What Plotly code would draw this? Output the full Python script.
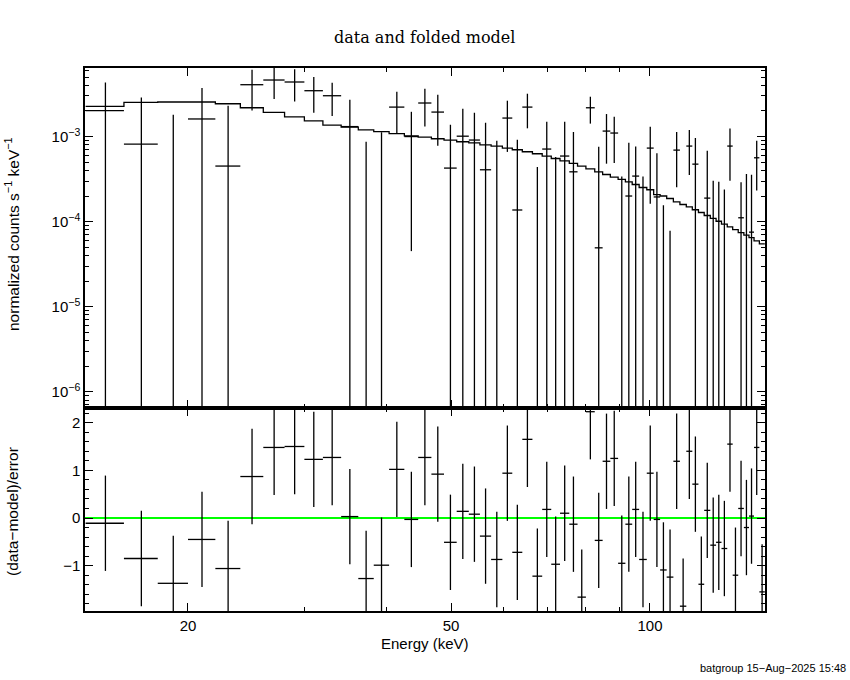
import plotly.graph_objects as go
import math

# ---------------- data ----------------
edges = [14.0, 16.0, 18.0, 20.0, 22.0, 24.0, 26.0, 28.0, 30.0, 32.0, 34.1, 36.2, 38.2, 40.3,
         42.5, 44.6, 46.7, 48.8, 51.0, 53.2, 55.3, 57.5, 59.8, 61.9, 64.1, 66.4, 68.7, 70.9,
         73.1, 75.5, 77.7, 80.0, 82.5, 84.8, 87.1, 89.5, 91.8, 94.0, 96.3, 98.9, 101.3, 103.6,
         106.0, 108.5, 111.0, 113.5, 115.9, 118.4, 120.8, 123.4, 125.9, 128.3, 130.9, 133.4,
         136.0, 138.7, 141.2, 143.7, 146.4, 149.2]

rate = [2.02e-3, 8.16e-4, -2.3e-4, 1.61e-3, 4.50e-4, 4.07e-3, 4.62e-3, 4.38e-3, 3.46e-3, 3.02e-3,
        1.31e-3, -3.6e-4, -1.0e-5, 2.22e-3, 1.00e-3, 2.48e-3, 1.94e-3, 4.26e-4, 1.01e-3, 9.1e-4,
        4.07e-4, -2.7e-5, 1.65e-3, 1.37e-4, 2.22e-3, -3.9e-4, 7.13e-4, -2.24e-4, 5.90e-4, 3.85e-4,
        -7.1e-4, 2.18e-3, 4.92e-5, 1.16e-3, 1.10e-3, -2.6e-4, 2.0e-4, 3.43e-4, -3.6e-4, 7.32e-4,
        1.95e-4, -3.34e-4, -3.76e-4, 6.93e-4, -6.7e-4, 7.73e-4, 4.74e-4, -4.98e-4, 1.89e-4, -1.47e-4,
        -1.01e-4, -1.65e-4, 7.73e-4, -4.0e-4, 1.11e-4, -4.0e-6, 7.52e-5, 5.63e-4, -4.1e-4]

rate_err = [2.3e-3, 2.07e-3, 2.03e-3, 2.11e-3, 1.85e-3, 2.05e-3, 1.86e-3, 1.79e-3, 1.55e-3, 1.27e-3,
            1.4e-3, 1.23e-3, 1.13e-3, 1.15e-3, 0.955e-3, 1.17e-3, 1.16e-3, 0.95e-3, 1.11e-3, 1.0e-3,
            1.05e-3, 0.92e-3, 0.99e-3, 0.78e-3, 0.97e-3, 0.83e-3, 0.78e-3, 0.80e-3, 0.90e-3, 0.75e-3,
            0.70e-3, 0.76e-3, 0.71e-3, 0.68e-3, 0.61e-3, 0.60e-3, 0.645e-3, 0.42e-3, 0.70e-3, 0.57e-3,
            0.44e-3, 0.49e-3, 0.454e-3, 0.44e-3, 0.45e-3, 0.42e-3, 0.49e-3, 0.45e-3, 0.49e-3, 0.449e-3,
            0.396e-3, 0.404e-3, 0.47e-3, 0.40e-3, 0.18e-3, 0.366e-3, 0.28e-3, 0.33e-3, 0.30e-3]

model = [2.26e-3, 2.52e-3, 2.55e-3, 2.55e-3, 2.43e-3, 2.18e-3, 1.92e-3, 1.70e-3, 1.53e-3, 1.36e-3,
         1.29e-3, 1.20e-3, 1.14e-3, 1.08e-3, 1.02e-3, 9.86e-4, 9.42e-4, 9.10e-4, 8.69e-4, 8.45e-4,
         8.00e-4, 7.73e-4, 7.32e-4, 7.00e-4, 6.63e-4, 6.28e-4, 5.90e-4, 5.52e-4, 5.19e-4, 4.83e-4,
         4.50e-4, 4.18e-4, 3.85e-4, 3.58e-4, 3.34e-4, 3.13e-4, 2.94e-4, 2.73e-4, 2.52e-4, 2.37e-4,
         2.08e-4, 2.00e-4, 1.87e-4, 1.71e-4, 1.59e-4, 1.49e-4, 1.38e-4, 1.28e-4, 1.18e-4, 1.09e-4,
         1.01e-4, 9.35e-5, 8.69e-5, 8.07e-5, 7.44e-5, 6.93e-5, 6.50e-5, 5.94e-5, 5.48e-5]

resid = [-0.11, -0.85, -1.37, -0.45, -1.06, 0.87, 1.48, 1.50, 1.23, 1.27,
         0.03, -1.27, -0.99, 1.02, -0.03, 1.27, 0.92, -0.51, 0.14, 0.08,
         -0.38, -0.87, 0.94, -0.72, 1.65, -1.22, 0.18, -0.97, 0.10, -0.13,
         -1.66, 2.23, -0.47, 1.19, 1.25, -0.95, -0.13, 0.18, -0.87, 0.94,
         -0.03, -1.09, -1.24, 1.19, -1.85, 1.40, 0.71, -1.39, 0.16, -0.57,
         -0.51, -0.64, 1.55, -1.20, 0.20, -0.20, 0.04, 1.48, -1.55]
resid_err = [1.0] * len(resid)

x_tickvals = [20, 50, 100]
x_ticktext = ["20", "50", "100"]
x_minor = [30, 40, 60, 70, 80, 90]
y_tickvals = [1e-6, 1e-5, 1e-4, 1e-3]
y_ticktext = ["10<sup>\u22126</sup>", "10<sup>\u22125</sup>", "10<sup>\u22124</sup>", "10<sup>\u22123</sup>"]
r_tickvals = [-1, 0, 1, 2]
r_ticktext = ["\u22121", "0", "1", "2"]

# ---------------- build marks ----------------
n = len(rate)
FLOOR = 1e-9
vx, vy, hx, hy = [], [], [], []
rvx, rvy, rhx, rhy = [], [], [], []
for i in range(n):
    lo, hi = edges[i], edges[i + 1]
    c = 0.5 * (lo + hi)
    d, e = rate[i], rate_err[i]
    top = d + e
    if top > 0:
        bot = d - e if d - e > 0 else FLOOR
        vx += [c, c, None]
        vy += [bot, top, None]
    if d > 0:
        hx += [lo, hi, None]
        hy += [d, d, None]
    r, re = resid[i], resid_err[i]
    rvx += [c, c, None]
    rvy += [r - re, r + re, None]
    rhx += [lo, hi, None]
    rhy += [r, r, None]

mx = list(edges)
my = list(model) + [model[-1]]

FONT = "Liberation Sans, Arial, sans-serif"
W, H = 850, 680
ML, MR, MT, MB = 85, 85, 68, 69
PW, PH = W - ML - MR, H - MT - MB
split = (611 - 408) / PH

fig = go.Figure()
line_k = dict(color="black", width=1.3)
fig.add_trace(go.Scatter(x=mx, y=my, mode="lines", line=dict(color="black", width=1.3, shape="hv"),
                         xaxis="x2", yaxis="y2", hoverinfo="skip"))
fig.add_trace(go.Scatter(x=vx, y=vy, mode="lines", line=line_k, xaxis="x2", yaxis="y2",
                         connectgaps=False, hoverinfo="skip"))
fig.add_trace(go.Scatter(x=hx, y=hy, mode="lines", line=line_k, xaxis="x2", yaxis="y2",
                         connectgaps=False, hoverinfo="skip"))
# residual panel
fig.add_trace(go.Scatter(x=[edges[0] * 0.9, edges[-1] * 1.1], y=[0, 0], mode="lines",
                         line=dict(color="#00ff00", width=2), xaxis="x", yaxis="y", hoverinfo="skip"))
fig.add_trace(go.Scatter(x=rvx, y=rvy, mode="lines", line=line_k, xaxis="x", yaxis="y",
                         connectgaps=False, hoverinfo="skip"))
fig.add_trace(go.Scatter(x=rhx, y=rhy, mode="lines", line=line_k, xaxis="x", yaxis="y",
                         connectgaps=False, hoverinfo="skip"))

xr = [math.log10(13.97), math.log10(149.3)]
axis_common = dict(showline=True, linecolor="black", linewidth=1.5, mirror="allticks",
                   ticks="inside", tickcolor="black", tickwidth=1.2, showgrid=False, zeroline=False,
                   tickfont=dict(family=FONT, size=15, color="black"))

fig.update_layout(
    width=W, height=H, margin=dict(l=ML, r=MR, t=MT, b=MB),
    paper_bgcolor="white", plot_bgcolor="white", showlegend=False,
    xaxis=dict(type="log", range=xr, domain=[0, 1], anchor="y",
               tickmode="array", tickvals=x_tickvals, ticktext=x_ticktext, ticklen=8,
               minor=dict(tickmode="array", tickvals=x_minor, ticks="inside", ticklen=4,
                          tickcolor="black", tickwidth=1.2, showgrid=False),
               **axis_common),
    xaxis2=dict(type="log", range=xr, domain=[0, 1], anchor="y2", matches="x",
                tickmode="array", tickvals=x_tickvals, ticktext=x_ticktext, ticklen=8,
                showticklabels=False,
                minor=dict(tickmode="array", tickvals=x_minor, ticks="inside", ticklen=4,
                           tickcolor="black", tickwidth=1.2, showgrid=False),
                **axis_common),
    yaxis=dict(range=[-(611 - 518) / 47.67, (518 - 408) / 47.67], domain=[0, split], anchor="x",
               tickmode="array", tickvals=r_tickvals, ticktext=r_ticktext, ticklen=8,
               minor=dict(dtick=0.2, tick0=0, ticks="inside", ticklen=4,
                          tickcolor="black", tickwidth=1.2, showgrid=False),
               **axis_common),
    yaxis2=dict(type="log", range=[-6.191, -2.194], domain=[split, 1], anchor="x2",
                tickmode="array", tickvals=y_tickvals, ticktext=y_ticktext, ticklen=8,
                minor=dict(tickmode="array",
                           tickvals=[k * 10 ** p for p in range(-7, -2) for k in range(2, 10)],
                           ticks="inside", ticklen=4, tickcolor="black", tickwidth=1.2,
                           showgrid=False),
                **axis_common),
)

def px_x(X):
    return (X - ML) / PW

def px_y(Y):
    return (H - MB - Y) / PH

ann = [
    dict(text="data and folded model", x=px_x(424), y=px_y(38),
         font=dict(family="DejaVu Serif, serif", size=16, color="black")),
    dict(text="Energy (keV)", x=px_x(425), y=px_y(643),
         font=dict(family=FONT, size=15, color="black")),
    dict(text="normalized counts s<sup>\u22121</sup> keV<sup>\u22121</sup>", x=px_x(12), y=px_y(234),
         textangle=-90, font=dict(family=FONT, size=15.5, color="black")),
    dict(text="(data\u2212model)/error", x=px_x(12), y=px_y(512),
         textangle=-90, font=dict(family=FONT, size=15.5, color="black")),
    dict(text="batgroup 15\u2212Aug\u22122025 15:48", x=px_x(848), y=px_y(668), xanchor="right",
         font=dict(family=FONT, size=11, color="black")),
]
for a in ann:
    a.setdefault("xanchor", "center")
    a.update(xref="paper", yref="paper", showarrow=False, yanchor="middle")
fig.update_layout(annotations=ann)

fig.write_html("out.html", config={"displayModeBar": False},
               post_script="document.body.style.margin='0';document.body.style.padding='0';")
